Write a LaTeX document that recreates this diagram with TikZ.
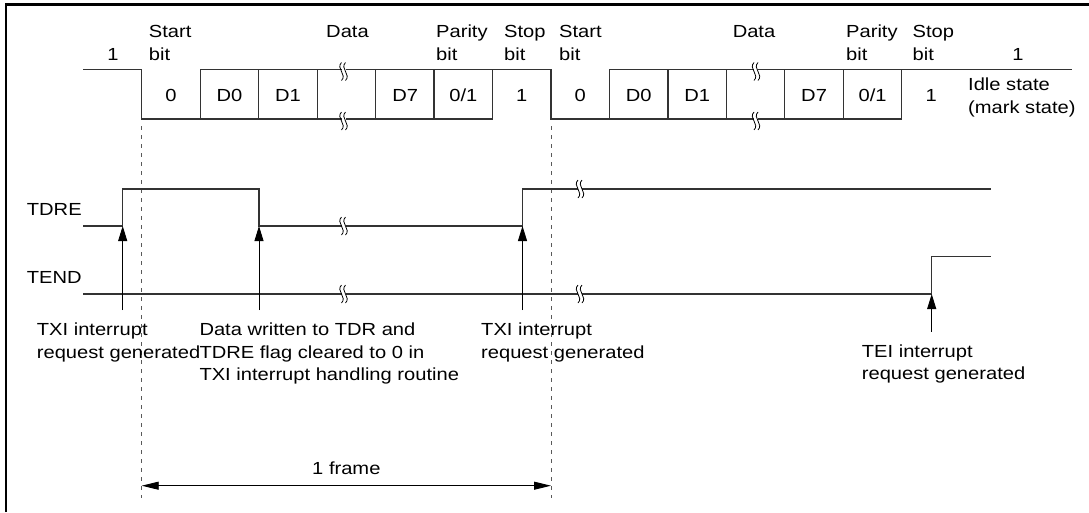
\documentclass[tikz,border=0pt]{standalone}
\usepackage{fontspec}
\usepackage{tikz}
\usetikzlibrary{arrows.meta}
\newfontfamily\diagfont[FakeStretch=1.15]{Liberation Sans}

% wavy cut mark on a signal line
\newcommand{\sigcut}[2]{%
  \fill[white] (#1-2,#2-8) rectangle (#1+2,#2+8);
  \draw[line width=0.8pt] (#1-2,#2-9) .. controls (#1-8,#2-3) and (#1+4,#2+3) .. (#1-2,#2+9);
  \draw[line width=0.8pt] (#1+2,#2-9) .. controls (#1-4,#2-3) and (#1+8,#2+3) .. (#1+2,#2+9);
}

\begin{document}
\begin{tikzpicture}[
    x=1pt, y=-1pt,
    lbl/.style={font=\diagfont\fontsize{17.5}{22.6}\selectfont, inner sep=0pt, align=left},
    sig/.style={line width=1.1pt, black!80},
    guide/.style={line width=0.9pt, black!65, dash pattern=on 4pt off 5pt},
    irq/.style={line width=0.9pt, -{Triangle[length=15pt, width=9pt]}},
    spanarrow/.style={line width=0.9pt, {Triangle[length=17pt, width=8pt]}-{Triangle[length=17pt, width=8pt]}},
    figframe/.style={line width=2.7pt}
]
    \useasboundingbox (0,0) rectangle (1089,512);
    \draw[figframe] (6,512) -- (6,4.7) -- (1089,4.7);

    % Serial data line
    \draw[sig] (83,69.3) -- (141.7,69.3) -- (141.7,119) -- (492.5,119) -- (492.5,69.3);
    \draw[sig] (200.2,119) -- (200.2,69.3) -- (551,69.3) -- (551,119) -- (901.8,119) -- (901.8,69.3);
    \draw[sig] (609.5,119) -- (609.5,69.3) -- (1072,69.3);
    \foreach \x in {258.6,317.1,375.6,434.0,668.0,726.4,784.9,843.4}
        \draw[sig] (\x,69.3) -- (\x,119);
    \sigcut{343.5}{71.5}
    \sigcut{343.5}{121}
    \sigcut{756}{71.5}
    \sigcut{756}{121}

    % Bit labels (multi-line nodes sit on their last baseline)
    \node[lbl, anchor=base] (idle1) at (113,60) {1};
    \node[lbl, anchor=base west] (start1) at (148.7,60) {Start\\bit};
    \node[lbl, anchor=base] (data1) at (347.5,37.4) {Data};
    \node[lbl, anchor=base west] (par1) at (436,60) {Parity\\bit};
    \node[lbl, anchor=base west] (stop1) at (504,60) {Stop\\bit};
    \node[lbl, anchor=base west] (start2) at (559,60) {Start\\bit};
    \node[lbl, anchor=base] (data2) at (754,37.4) {Data};
    \node[lbl, anchor=base west] (par2) at (846,60) {Parity\\bit};
    \node[lbl, anchor=base west] (stop2) at (912.5,60) {Stop\\bit};
    \node[lbl, anchor=base] (idle2) at (1018,60) {1};
    \node[lbl, anchor=base west] (idle) at (968,113.3) {Idle state\\(mark state)};

    \node[lbl, anchor=base] (b0a) at (171,101) {0};
    \node[lbl, anchor=base] (d0a) at (229.4,101) {D0};
    \node[lbl, anchor=base] (d1a) at (287.9,101) {D1};
    \node[lbl, anchor=base] (d7a) at (405.3,101) {D7};
    \node[lbl, anchor=base] (pa) at (463.3,101) {0/1};
    \node[lbl, anchor=base] (sa) at (521.7,101) {1};
    \node[lbl, anchor=base] (b0b) at (580.2,101) {0};
    \node[lbl, anchor=base] (d0b) at (638.7,101) {D0};
    \node[lbl, anchor=base] (d1b) at (697.2,101) {D1};
    \node[lbl, anchor=base] (d7b) at (814.1,101) {D7};
    \node[lbl, anchor=base] (pb) at (872.6,101) {0/1};
    \node[lbl, anchor=base] (sb) at (931.1,101) {1};

    % Frame guides
    \coordinate (g1top) at (141.7,126);
    \coordinate (g1bot) at (141.7,498);
    \coordinate (g2top) at (551,126);
    \coordinate (g2bot) at (551,498);
    \draw[guide] (g1top) -- (g1bot);
    \draw[guide] (g2top) -- (g2bot);

    % Flags
    \node[lbl, anchor=base west] (tdre) at (26.7,215) {TDRE};
    \node[lbl, anchor=base west] (tend) at (26.7,283) {TEND};
    \draw[sig] (83,226) -- (122.7,226) -- (122.7,189) -- (259,189) -- (259,226) -- (522.5,226) -- (522.5,189) -- (990.7,189);
    \draw[sig] (83,294) -- (931.7,294) -- (931.7,256.7) -- (990.7,256.7);
    \sigcut{343.5}{226}
    \sigcut{343.5}{294}
    \sigcut{580}{189}
    \sigcut{580}{294}

    % Interrupt events
    \coordinate (txi1) at (122.7,310);
    \coordinate (wr) at (259,310);
    \coordinate (txi2) at (522.5,310);
    \coordinate (tei) at (931.7,331.7);
    \draw[irq] (txi1) -- (122.7,226);
    \draw[irq] (wr) -- (259,226);
    \draw[irq] (txi2) -- (522.5,226);
    \draw[irq] (tei) -- (931.7,294);

    \node[lbl, anchor=base west] (txi1lbl) at (36.7,358.3) {TXI interrupt\\request generated};
    \node[lbl, anchor=base west] (wrlbl) at (199.3,380.9) {Data written to TDR and\\TDRE flag cleared to 0 in\\TXI interrupt handling routine};
    \node[lbl, anchor=base west] (txi2lbl) at (481,358.3) {TXI interrupt\\request generated};
    \node[lbl, anchor=base west] (teilbl) at (861.7,379.6) {TEI interrupt\\request generated};

    % Frame length
    \coordinate (frmL) at (141.7,485.7);
    \coordinate (frmR) at (551,485.7);
    \draw[spanarrow] (frmL) -- node[lbl, above=10.7pt] (frm) {1 frame} (frmR);

\end{tikzpicture}
\end{document}
